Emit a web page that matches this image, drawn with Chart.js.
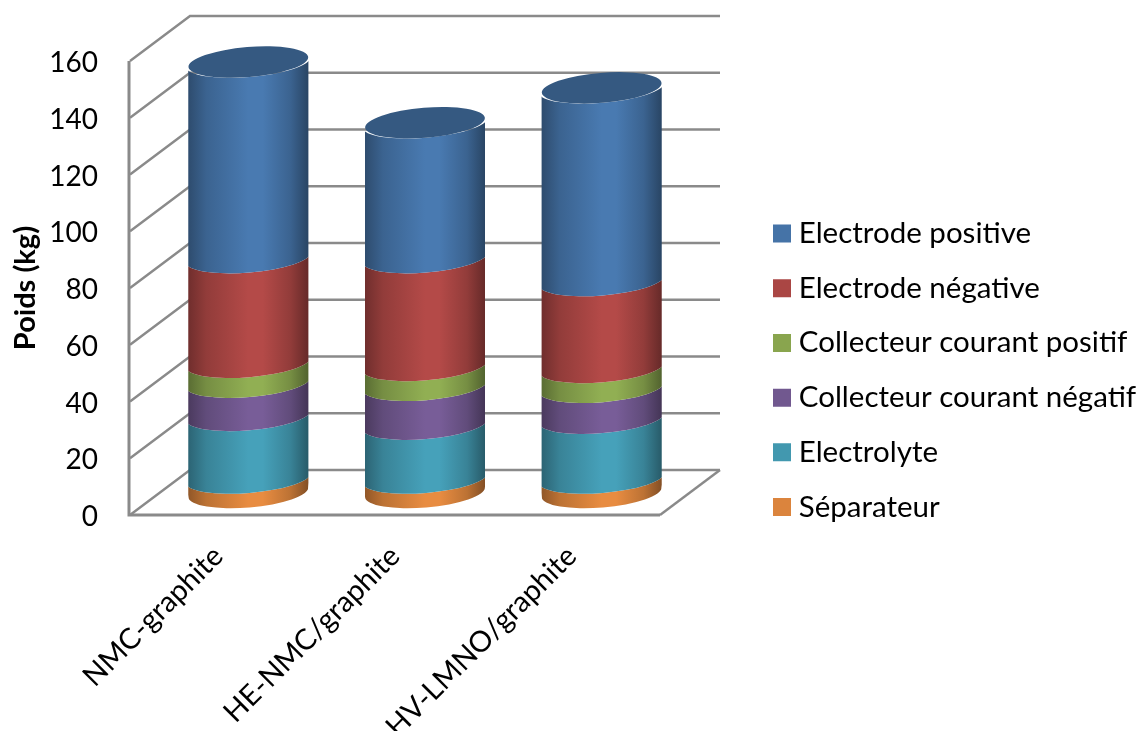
<!DOCTYPE html>
<html lang="fr">
<head>
<meta charset="utf-8">
<title>Poids par composant</title>
<script src="https://cdn.jsdelivr.net/npm/chart.js@4"></script>
<style>
  html, body { margin:0; padding:0; background:#fff; }
  #wrap { position:relative; width:1141px; height:731px; }
</style>
</head>
<body>
<div id="wrap"><canvas id="chart"></canvas></div>
<script>
const categories = ['NMC-graphite', 'HE-NMC/graphite', 'HV-LMNO/graphite'];

// du bas vers le haut de la pile
const separateur = [5.1, 5.1, 5.1];
const electrolyte = [22.1, 19, 21.1];
const collecteurNeg = [11.7, 13.7, 10.9];
const collecteurPos = [7, 7, 7];
const electrodeNeg = [36.9, 38, 30.6];
const electrodePos = [68.9, 47.5, 67.9];

const yTicks = [0, 20, 40, 60, 80, 100, 120, 140, 160];

const DEPTH_X = 60, DEPTH_Y = -45;   // profondeur du plancher
const TILT = -0.083;                 // inclinaison des ellipses
const RY = 15;
const INNER_RX = 2.5;                // les jonctions sont un peu plus larges que le cylindre
const GRID = '#8a8a8a';

function shade(hex, k) {
  const n = parseInt(hex.slice(1), 16);
  const c = [n >> 16, (n >> 8) & 255, n & 255].map(v => Math.min(255, Math.round(v * k)));
  return `rgb(${c[0]},${c[1]},${c[2]})`;
}

/* ===== Murs + cylindres ===== */
const cylinders = {
  id: 'cylinders',
  afterLayout(chart) {
    // legende placee a droite du graphique
    const lg = chart.legend;
    lg.left = 754.8;
    lg.right = 1141;
    lg.top = 0;
    lg.bottom = 547;
  },
  beforeDatasetsDraw(chart) {
    const { ctx, chartArea: a, scales: { y } } = chart;
    ctx.save();
    ctx.strokeStyle = GRID;
    ctx.lineWidth = 2.4;
    yTicks.forEach(t => {
      const py = y.getPixelForValue(t);
      ctx.beginPath();
      ctx.moveTo(a.left, py);
      ctx.lineTo(a.left + DEPTH_X, py + DEPTH_Y);
      ctx.lineTo(a.right + DEPTH_X, py + DEPTH_Y);
      ctx.stroke();
    });
    // plancher + axe avant
    const y0 = y.getPixelForValue(0);
    ctx.beginPath();
    ctx.moveTo(a.right, y0);
    ctx.lineTo(a.right + DEPTH_X, y0 + DEPTH_Y);
    ctx.stroke();
    ctx.lineWidth = 3;
    ctx.beginPath();
    ctx.moveTo(a.left - 1, y.getPixelForValue(160));
    ctx.lineTo(a.left - 1, y0);
    ctx.lineTo(a.right, y0);
    ctx.stroke();

    const last = chart.data.datasets.length - 1;
    chart.data.datasets.forEach((ds, di) => {
      chart.getDatasetMeta(di).data.forEach(bar => {
        const cx = bar.x + DEPTH_X / 2;
        const rx = bar.width / 2;
        const top = bar.y + DEPTH_Y / 2;
        const bottom = bar.base + DEPTH_Y / 2;
        const grad = ctx.createLinearGradient(cx - rx, 0, cx + rx, 0);
        const base = ds.backgroundColor;
        grad.addColorStop(0, shade(base, 0.66));
        grad.addColorStop(0.15, shade(base, 0.86));
        grad.addColorStop(0.5, shade(base, 1.06));
        grad.addColorStop(0.62, shade(base, 1.06));
        grad.addColorStop(0.85, shade(base, 0.86));
        grad.addColorStop(1, shade(base, 0.6));
        ctx.save();
        ctx.beginPath();
        ctx.rect(cx - rx, 0, rx * 2, chart.height);
        ctx.clip();
        ctx.fillStyle = grad;
        ctx.beginPath();
        ctx.ellipse(cx, bottom, di === 0 ? rx : rx + INNER_RX, RY, TILT, Math.PI, 0, true);
        ctx.ellipse(cx, top, rx + INNER_RX, RY, TILT, 0, Math.PI, false);
        ctx.closePath();
        ctx.fill();
        ctx.restore();
        if (di === last) {
          ctx.fillStyle = shade(base, 0.77);
          ctx.beginPath();
          ctx.ellipse(cx, top, rx, RY, TILT, 0, Math.PI * 2);
          ctx.fill();
        }
      });
    });
    ctx.restore();
    return false; // les barres plates ne sont pas dessinees
  }
};

/* ===== Chart.js ===== */
Chart.defaults.font.family = 'Lato, "Open Sans", sans-serif';
Chart.defaults.color = '#000';

// borderWidth epais : carre de legende de 18px avec le texte plus pres
const legendBorder = { borderWidth: 14 };

new Chart(document.getElementById('chart'), {
  type: 'bar',
  data: {
    labels: categories,
    datasets: [
      { label: 'Séparateur', data: separateur, backgroundColor: '#db843d', borderColor: '#db843d', ...legendBorder },
      { label: 'Electrolyte', data: electrolyte, backgroundColor: '#4298af', borderColor: '#4298af', ...legendBorder },
      { label: 'Collecteur courant négatif', data: collecteurNeg, backgroundColor: '#71588f', borderColor: '#71588f', ...legendBorder },
      { label: 'Collecteur courant positif', data: collecteurPos, backgroundColor: '#89a54e', borderColor: '#89a54e', ...legendBorder },
      { label: 'Electrode négative', data: electrodeNeg, backgroundColor: '#aa4644', borderColor: '#aa4644', ...legendBorder },
      { label: 'Electrode positive', data: electrodePos, backgroundColor: '#4573a7', borderColor: '#4573a7', ...legendBorder }
    ]
  },
  options: {
    responsive: true,
    maintainAspectRatio: false,
    animation: false,
    layout: { padding: { left: 0, top: 61, right: 481, bottom: 0 } },
    datasets: { bar: { categoryPercentage: 1, barPercentage: 0.68 } },
    plugins: {
      tooltip: { enabled: false },
      legend: {
        position: 'chartArea',
        align: 'end',
        reverse: true,
        labels: {
          boxWidth: 4,
          boxHeight: 4,
          padding: 25.2,
          font: { size: 29.5 }
        }
      }
    },
    scales: {
      x: {
        stacked: true,
        grid: { display: false, drawTicks: false },
        border: { display: false },
        ticks: { autoSkip: false, minRotation: 45, maxRotation: 45, padding: 24, font: { size: 29 } },
        afterFit(scale) { scale.height = 216; }
      },
      y: {
        stacked: true,
        min: 0,
        max: 160,
        grid: { display: false, drawTicks: false },
        border: { display: false },
        title: { display: true, text: 'Poids (kg)', font: { size: 29, weight: 'bold' }, padding: { top: 8, bottom: 0 } },
        ticks: { stepSize: 20, padding: 32, labelOffset: 2, font: { size: 28 } },
        afterFit(scale) { scale.width = 130; }
      }
    }
  },
  plugins: [cylinders]
});
</script>
</body>
</html>
